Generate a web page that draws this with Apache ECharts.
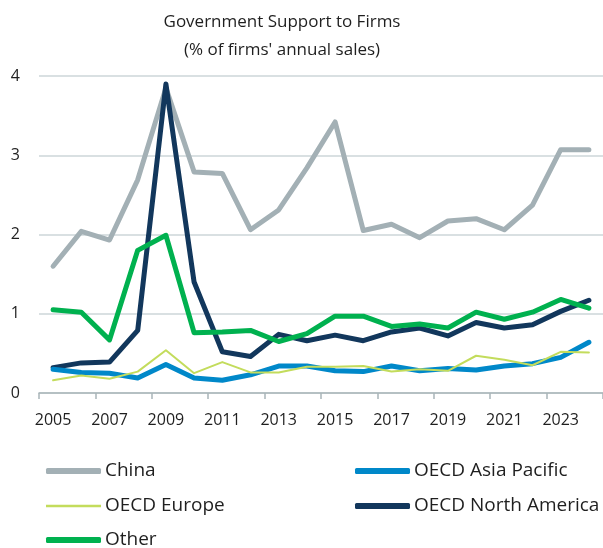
<!DOCTYPE html>
<html>
<head>
<meta charset="utf-8">
<script src="https://cdn.jsdelivr.net/npm/echarts@6/dist/echarts.min.js"></script>
<style>
  html, body { margin: 0; padding: 0; background: #fff; }
  #chart { width: 603px; height: 548px; }
</style>
</head>
<body>
<div id="chart"></div>
<script>
// Years on the category axis
const years = ['2005','2006','2007','2008','2009','2010','2011','2012','2013','2014',
               '2015','2016','2017','2018','2019','2020','2021','2022','2023','2024'];

// Government support, % of firms' annual sales
const china         = [1.60, 2.04, 1.93, 2.69, 3.85, 2.79, 2.77, 2.06, 2.31, 2.84, 3.42, 2.05, 2.13, 1.96, 2.17, 2.20, 2.06, 2.37, 3.07, 3.07];
const asiaPacific   = [0.30, 0.26, 0.25, 0.19, 0.36, 0.19, 0.16, 0.23, 0.34, 0.34, 0.28, 0.27, 0.34, 0.28, 0.31, 0.29, 0.34, 0.37, 0.45, 0.64];
const europe        = [0.16, 0.22, 0.18, 0.27, 0.54, 0.25, 0.39, 0.26, 0.26, 0.33, 0.33, 0.34, 0.27, 0.30, 0.28, 0.47, 0.42, 0.35, 0.52, 0.51];
const northAmerica  = [0.32, 0.38, 0.39, 0.79, 3.90, 1.40, 0.52, 0.46, 0.74, 0.66, 0.73, 0.66, 0.77, 0.82, 0.72, 0.89, 0.82, 0.86, 1.03, 1.17];
const other         = [1.05, 1.02, 0.67, 1.80, 1.99, 0.76, 0.77, 0.79, 0.65, 0.75, 0.97, 0.97, 0.84, 0.87, 0.82, 1.02, 0.93, 1.02, 1.18, 1.07];

// Y axis ticks
const yTicks = [0, 1, 2, 3, 4];

const FONT = 'Open Sans';
const TEXT = '#1f1f1f';

const COLORS = {
  'China': '#a3b0b5',
  'OECD Asia Pacific': '#0088c9',
  'OECD Europe': '#c3dc5c',
  'OECD North America': '#12375c',
  'Other': '#00b14f'
};

function line(name, data, width, z) {
  return {
    name: name,
    type: 'line',
    data: data,
    symbol: 'none',
    smooth: false,
    z: z,
    lineStyle: { color: COLORS[name], width: width, cap: 'round', join: 'round' },
    itemStyle: { color: COLORS[name] },
    emphasis: { disabled: true }
  };
}

// One legend entry per component so the two columns line up exactly
function legendItem(name, left, centerY, thin) {
  return {
    data: [name],
    orient: 'vertical',
    left: left,
    top: centerY - 12,
    icon: thin ? 'rect' : 'roundRect',
    itemWidth: 55,
    itemHeight: thin ? 2.5 : 6,
    itemGap: 0,
    itemStyle: { color: COLORS[name] },
    textStyle: { fontFamily: FONT, fontSize: 19, color: TEXT, lineHeight: 24, padding: [0, 0, 0, -1] },
    selectedMode: false
  };
}

const chart = echarts.init(document.getElementById('chart'), null, { renderer: 'canvas' });

chart.setOption({
  animation: false,
  backgroundColor: '#ffffff',
  title: {
    text: 'Government Support to Firms\n(% of firms\' annual sales)',
    left: 277,
    top: 3,
    textAlign: 'center',
    textStyle: {
      fontFamily: FONT,
      fontSize: 17,
      fontWeight: 'normal',
      color: TEXT,
      lineHeight: 28
    }
  },
  grid: { left: 39, right: -4, top: 76, bottom: 155, containLabel: false },
  xAxis: {
    type: 'category',
    data: years,
    boundaryGap: true,
    axisLine: { show: true, lineStyle: { color: '#a9b5b9', width: 1.5 } },
    axisTick: { show: true, interval: 1, length: 6, lineStyle: { color: '#a9b5b9', width: 1.5 } },
    axisLabel: {
      interval: 1,
      margin: 19,
      fontFamily: FONT,
      fontSize: 16,
      color: TEXT
    },
    splitLine: { show: false }
  },
  yAxis: {
    type: 'value',
    min: yTicks[0],
    max: yTicks[yTicks.length - 1],
    interval: 1,
    axisLine: { show: false },
    axisTick: { show: false },
    axisLabel: {
      margin: 19,
      fontFamily: FONT,
      fontSize: 16,
      color: TEXT
    },
    splitLine: { show: true, lineStyle: { color: '#cdd6d9', width: 1.5 } }
  },
  legend: [
    legendItem('China', 41, 466, false),
    legendItem('OECD Europe', 41, 501, true),
    legendItem('Other', 41, 535, false),
    legendItem('OECD Asia Pacific', 350, 466, false),
    legendItem('OECD North America', 350, 501, false)
  ],
  series: [
    line('China', china, 5, 1),
    line('OECD North America', northAmerica, 5, 2),
    line('Other', other, 5, 3),
    line('OECD Asia Pacific', asiaPacific, 5, 4),
    line('OECD Europe', europe, 2, 5)
  ]
});
</script>
</body>
</html>
